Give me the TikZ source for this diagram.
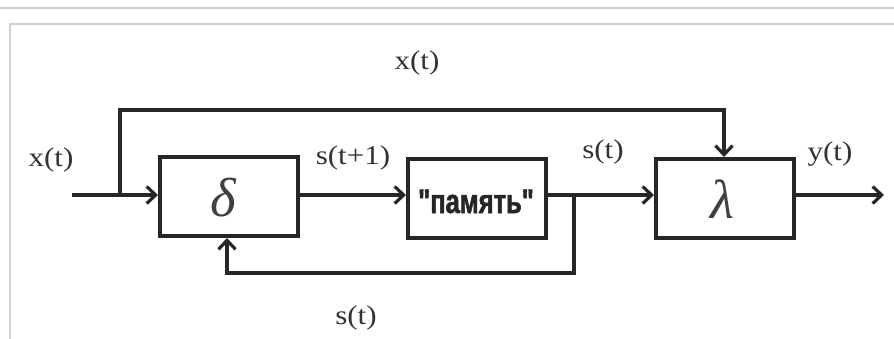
\documentclass[tikz,border=0pt]{standalone}
\usepackage{fontspec}
\setmainfont{Liberation Serif}
\newfontfamily\lblfont[FakeStretch=1.15]{Liberation Serif}
\newfontfamily\cyrsans[FakeStretch=0.75,FakeBold=1.5]{Liberation Sans Bold}
\usetikzlibrary{arrows.meta}
\begin{document}
\begin{tikzpicture}[x=1pt,y=-1pt,
  blk/.style={draw=black!85, line width=4pt, minimum width=138pt, minimum height=79pt, inner sep=0pt, anchor=north west},
  wire/.style={draw=black!85, line width=4pt},
  arr/.style={wire, -{Straight Barb[length=9pt,width=17pt,line width=3.2pt]}},
  lbl/.style={font=\lblfont\fontsize{27}{29}\selectfont, text=black!80, inner sep=0pt},
  sym/.style={font=\itshape\fontsize{55}{57}\selectfont, text=black!75, inner sep=0pt}]
\useasboundingbox (0,0) rectangle (894,339);
\fill[white] (0,0) rectangle (894,339);
\draw[black!18, line width=1.5pt] (0,8) -- (894,8);
\draw[black!18, line width=1.5pt] (894,24) -- (10,24) -- (10,339);
% blocks
\node[blk] (d) at (158,155) {};
\node[sym] at ([xshift=-6pt,yshift=-1pt]d.center) {δ};
\node[blk] (m) at (406,157) {};
\node[font=\cyrsans\fontsize{34}{36}\selectfont, text=black!85] at ([xshift=-1pt,yshift=-3pt]m.center) {"память"};
\node[blk] (l) at (654,157) {};
\node[sym] at ([xshift=-3pt,yshift=-1pt]l.center) {λ};
% coordinates
\coordinate (in) at (72,195);
\coordinate (b1) at (120,195);
\coordinate (b2) at (574,195);
\coordinate (out) at (884,195);
\coordinate (t1) at (120,110);
\coordinate (t2) at (724,110);
\coordinate (f1) at (574,273);
\coordinate (f2) at (227,273);
% wires
\draw[arr] (in) -- (d.west |- in);
\draw[arr] (b1) -- (t1) -- (t2) -- (t2 |- l.north);
\draw[arr] (d.east |- in) -- (m.west |- in);
\draw[arr] (m.east |- in) -- (l.west |- in);
\draw[arr] (b2) -- (f1) -- (f2) -- (f2 |- d.south);
\draw[arr] (l.east |- out) -- (out);
% labels
\node[lbl] (lx1) at (417,63) {x(t)};
\node[lbl] (lx2) at (51,160) {x(t)};
\node[lbl] (ls1) at (353,158) {s(t+1)};
\node[lbl] (ls2) at (603,152) {s(t)};
\node[lbl] (ly) at (830,154) {y(t)};
\node[lbl] (ls3) at (356,318) {s(t)};
\end{tikzpicture}
\end{document}
